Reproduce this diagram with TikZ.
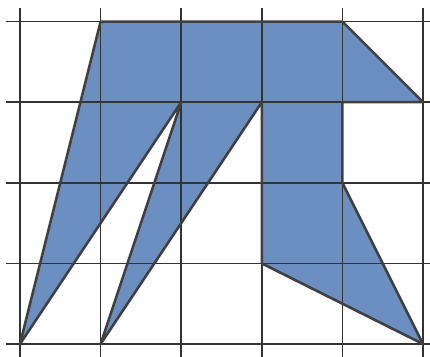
\documentclass[tikz,border=0pt]{standalone}
\begin{document}
\begin{tikzpicture}[x=60.45pt,y=60.45pt,
  gridline/.style={line width=1.1pt,draw=black!80},
  shapefill/.style={fill={rgb,255:red,106;green,143;blue,192}},
  shapeedge/.style={line width=1.9pt,draw=black!75,line join=round}]
\useasboundingbox (-0.248,-0.149) rectangle (5.087,4.268);
\coordinate (A) at (0,0);
\coordinate (B) at (1,4);
\coordinate (C) at (4,4);
\coordinate (D) at (5,3);
\coordinate (E) at (4,3);
\coordinate (F) at (4,2);
\coordinate (G) at (5,0);
\coordinate (H) at (3,1);
\coordinate (I) at (3,3);
\coordinate (J) at (1,0);
\coordinate (K) at (2,3);
\fill[shapefill] (A)--(B)--(C)--(D)--(E)--(F)--(G)--(H)--(I)--(J)--(K)--cycle;
\foreach \i in {0,...,5} \draw[gridline] (\i,-0.2) -- (\i,4.17);
\foreach \j in {0,...,4} \draw[gridline] (-0.174,\j) -- (5.1,\j);
\draw[shapeedge] (A)--(B)--(C)--(D)--(E)--(F)--(G)--(H)--(I)--(J)--(K)--cycle;
\end{tikzpicture}
\end{document}
